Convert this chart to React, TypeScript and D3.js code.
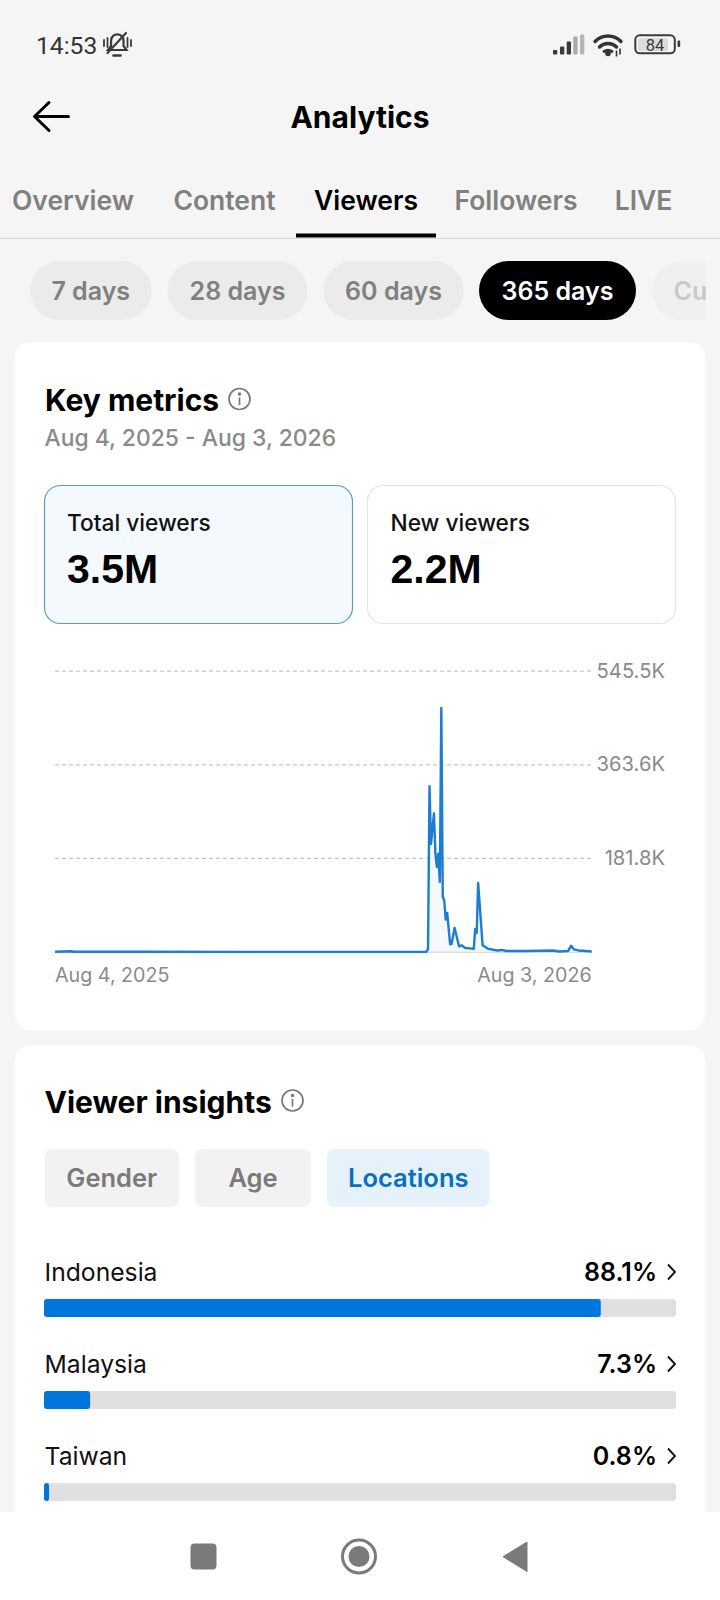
import React from "react";
import * as d3 from "d3";

// ---- data ----
const dayOffsets = [0, 11, 13, 60, 130, 200, 252, 253, 254, 255, 257, 258, 259, 260, 261, 262, 263, 264, 265, 266, 268, 269, 271, 274, 276, 278, 284, 285, 286, 287, 290, 294, 300, 303, 306, 320, 338, 342, 348, 350, 352, 355, 360, 364];
const dailyViewersK = [0.4, 1.5, 0.4, 0.4, 0.3, 0.3, 0.4, 6, 322, 210, 269, 191, 165, 191, 136, 474, 107, 100, 63, 76, 15, 16, 47, 11, 13, 8, 6, 45, 37, 134, 13, 6, 3, 4, 2, 2, 3, 1, 2, 12, 5, 3, 2, 1];
const yTickValuesK = [181.8, 363.6, 545.5];
const xTickLabels = ["Aug 4, 2025", "Aug 3, 2026"];

const statusTime = "14:53";
const batteryLevel = "84";
const screenTitle = "Analytics";
const tabNames = ["Overview", "Content", "Viewers", "Followers", "LIVE"];
const tabCentres = [73, 224.5, 366, 516, 643.5];
const activeTab = "Viewers";
const rangeNames = ["7 days", "28 days", "60 days", "365 days"];
const activeRange = "365 days";
const insightTabs = ["Gender", "Age", "Locations"];
const activeInsight = "Locations";
const countries = ["Indonesia", "Malaysia", "Taiwan"];
const countryShares = [88.1, 7.3, 0.8];

// ---- layout ----
const FONT = "Inter, 'Noto Sans', sans-serif";
const NUMFONT = "'Liberation Sans', Arial, sans-serif";
const LIGHT = "#f5f5f5";
const GREY = "#808080";
const BLUE = "#0075db";

const x = d3.scaleLinear().domain([0, 364]).range([55, 591.7]);
const y = d3.scaleLinear().domain([0, 545.5]).range([952, 671.2]);
const points = dayOffsets.map((d, i) => [d, dailyViewersK[i]] as [number, number]);
const linePath = d3.line<[number, number]>().x((d) => x(d[0])).y((d) => y(d[1]))(points) as string;
const areaPath = d3
  .area<[number, number]>()
  .x((d) => x(d[0]))
  .y0(y(0))
  .y1((d) => y(d[1]))(points) as string;
const shareX = d3.scaleLinear().domain([0, 100]).range([0, 632]);
const rangePills = [
  [30, 121.5],
  [167.5, 140],
  [323.5, 140],
  [479, 157],
];
const insightChips = [
  [44.5, 134.5],
  [195, 116],
  [327, 162.5],
];

const InfoIcon = ({ cx, cy }: { cx: number; cy: number }) => (
  <g stroke="#777" fill="none" strokeWidth={1.7}>
    <circle cx={cx} cy={cy} r={10.5} />
    <line x1={cx} x2={cx} y1={cy - 1.5} y2={cy + 6} />
    <circle cx={cx} cy={cy - 5} r={0.9} fill="#777" />
  </g>
);

export default function App() {
  return (
    <svg
      width={720}
      height={1600}
      viewBox="0 0 720 1600"
      style={{ position: "absolute", left: 0, top: 0, display: "block" }}
      fontFamily={FONT}
    >
      <rect width={720} height={1600} fill={LIGHT} />

      {/* status bar */}
      <text x={36} y={53.5} fontFamily="Roboto" fontSize={24.6} fontWeight={400} fill="#333">
        {statusTime}
      </text>
      <g fill="none" stroke="#3a3a3a" strokeWidth={2.2} strokeLinecap="round">
        <path d="M108 50 h18.5 l-3-4 v-5.5 a6.2 6.2 0 0 0-12.4 0 v5.5 z" />
        <line x1={107.5} y1={53} x2={126} y2={33} />
        <path d="M113.5 55.5 h7" strokeWidth={2.6} />
        <path d="M104 40 v6 M107.5 38 v9 M127.5 38 v9 M131 40 v6" strokeWidth={1.8} />
      </g>
      {[
        [553, 4.5, "#3a3a3a"],
        [560, 8, "#3a3a3a"],
        [566.7, 13, "#3a3a3a"],
        [573.3, 18, "#aaaaaa"],
        [580, 20, "#b5b5b5"],
      ].map(([bx, h, c]) => (
        <rect key={bx as number} x={bx as number} y={54.5 - (h as number)} width={4.3} height={h as number} rx={1} fill={c as string} />
      ))}
      <g fill="none" stroke="#333" strokeWidth={3.4} strokeLinecap="round">
        <path d="M595 41.5 a18 18 0 0 1 26 0" />
        <path d="M599.5 47 a12 12 0 0 1 17 0" />
        <path d="M604 51.5 a7 7 0 0 1 8 0" strokeWidth={2.8} />
      </g>
      <circle cx={608} cy={53.5} r={2.8} fill="#333" />
      <path d="M616.5 50.5 v6 M620 48.5 v6" stroke="#333" strokeWidth={1.6} />
      <rect x={635.3} y={35.3} width={39.5} height={18} rx={4.5} fill={LIGHT} stroke="#3a3a3a" strokeWidth={2} />
      <rect x={638} y={38} width={30} height={13} rx={2} fill="#dcdcdc" />
      <text x={655} y={50.5} fontFamily="Roboto" fontSize={16.5} textAnchor="middle" fill="#3a3a3a">
        {batteryLevel}
      </text>
      <rect x={677.5} y={40.5} width={2.7} height={6.5} rx={1} fill="#3a3a3a" />

      {/* header */}
      <path d="M68.5 116.5 H35 M49 102.5 L34.5 116.5 L49 130.5" fill="none" stroke="#000" strokeWidth={3} strokeLinecap="round" strokeLinejoin="round" />
      <text x={360} y={128} textAnchor="middle" fontSize={30} fontWeight={700} fill="#000">
        {screenTitle}
      </text>

      {/* tabs */}
      {tabNames.map((t, i) => (
        <text key={t} x={tabCentres[i]} y={210} textAnchor="middle" fontSize={26.5} fontWeight={600} fill={t === activeTab ? "#000" : GREY}>
          {t}
        </text>
      ))}
      <line x1={0} x2={720} y1={238.5} y2={238.5} stroke="#d8d8d8" strokeWidth={1.2} />
      <rect x={296} y={233.5} width={140} height={4} fill="#000" />

      {/* range pills */}
      {rangeNames.map((r, i) => {
        const [px, pw] = rangePills[i];
        const on = r === activeRange;
        return (
          <g key={r}>
            <rect x={px} y={261} width={pw} height={59} rx={29.5} fill={on ? "#000" : "#ebebeb"} />
            <text x={px + pw / 2} y={300} textAnchor="middle" fontSize={25} fontWeight={600} fill={on ? "#fff" : GREY}>
              {r}
            </text>
          </g>
        );
      })}
      <clipPath id="pillClip">
        <rect x={640} y={255} width={65.5} height={70} />
      </clipPath>
      <g clipPath="url(#pillClip)">
        <rect x={652} y={261} width={140} height={59} rx={29.5} fill="#f0f0f0" />
      </g>
      <text x={673.5} y={300} fontSize={25} fontWeight={600} fill="#c8c8c8">
        Cu
      </text>

      {/* key metrics card */}
      <rect x={14.5} y={342} width={691} height={688.5} rx={16} fill="#fff" />
      <text x={45} y={410.5} fontSize={30} fontWeight={700} fill="#000">
        Key metrics
      </text>
      <InfoIcon cx={239.5} cy={399} />
      <text x={44.5} y={446} fontSize={22.9} fontWeight={500} fill="#8a8a8a">
        {xTickLabels[0]} - {xTickLabels[1]}
      </text>

      <rect x={44.5} y={485.5} width={308} height={138} rx={16} fill="#f4f9fd" stroke="#5b9dbf" strokeWidth={1.2} />
      <text x={67} y={531} fontSize={22.7} fontWeight={500} fill="#111">
        Total viewers
      </text>
      <text x={67} y={583} fontFamily={NUMFONT} fontSize={41} fontWeight={700} fill="#000">
        3.5M
      </text>
      <rect x={367.5} y={485.5} width={308} height={138} rx={16} fill="#fff" stroke="#e4e4e4" strokeWidth={1.2} />
      <text x={390.5} y={531} fontSize={22.7} fontWeight={500} fill="#111">
        New viewers
      </text>
      <text x={390.5} y={583} fontFamily={NUMFONT} fontSize={41} fontWeight={700} fill="#000">
        2.2M
      </text>

      {/* chart */}
      {yTickValuesK.map((v) => (
        <g key={v}>
          <line x1={x(0)} x2={x(364)} y1={y(v)} y2={y(v)} stroke="#c4c4c4" strokeWidth={1.2} strokeDasharray="4 3" />
          <text x={665} y={y(v) + 6.5} textAnchor="end" fontSize={20.2} fill="#8a8a8a">
            {v}K
          </text>
        </g>
      ))}
      <line x1={x(0)} x2={x(364)} y1={y(0)} y2={y(0)} stroke="#dddddd" strokeWidth={2} />
      <path d={areaPath} fill="#f1f7fc" opacity={0.7} />
      <path d={linePath} fill="none" stroke="#1b7dd3" strokeWidth={2.4} strokeLinejoin="round" />
      <text x={55} y={981.5} fontSize={19.7} fill="#8a8a8a">
        {xTickLabels[0]}
      </text>
      <text x={591.7} y={981.5} textAnchor="end" fontSize={19.7} fill="#8a8a8a">
        {xTickLabels[1]}
      </text>

      {/* viewer insights card */}
      <rect x={14.5} y={1045} width={691} height={520} rx={16} fill="#fff" />
      <text x={44.5} y={1113} fontSize={30} fontWeight={700} fill="#000">
        Viewer insights
      </text>
      <InfoIcon cx={292.5} cy={1100.5} />
      {insightTabs.map((t, i) => {
        const [cx0, cw] = insightChips[i];
        const on = t === activeInsight;
        return (
          <g key={t}>
            <rect x={cx0} y={1149} width={cw} height={58} rx={8} fill={on ? "#e6f2fb" : "#f2f2f2"} />
            <text x={cx0 + cw / 2} y={1187} textAnchor="middle" fontSize={25.5} fontWeight={600} fill={on ? "#0a6fc2" : "#7a7a7a"}>
              {t}
            </text>
          </g>
        );
      })}
      {countries.map((c, i) => {
        const off = i * 92;
        return (
          <g key={c}>
            <text x={44.5} y={1281 + off} fontSize={24.7} fill="#111">
              {c}
            </text>
            <text x={657} y={1281 + off} textAnchor="end" fontSize={25} fontWeight={600} fill="#000">
              {countryShares[i]}%
            </text>
            <path
              d={`M668 ${1264.5 + off} L675 ${1272 + off} L668 ${1279.5 + off}`}
              fill="none"
              stroke="#111"
              strokeWidth={1.9}
            />
            <rect x={44} y={1299 + off} width={shareX(100)} height={18} rx={3} fill="#e0e0e0" />
            <rect x={44} y={1299 + off} width={shareX(countryShares[i])} height={18} rx={3} fill={BLUE} />
          </g>
        );
      })}

      {/* navigation bar */}
      <rect x={0} y={1512} width={720} height={88} fill="#fff" />
      <rect x={190.5} y={1543.5} width={26} height={26} rx={4} fill="#7a7a7a" />
      <circle cx={359} cy={1556.5} r={16.5} fill="none" stroke="#7a7a7a" strokeWidth={3} />
      <circle cx={359} cy={1556.5} r={10.5} fill="#7a7a7a" />
      <path d="M527 1542 V1571.5 L503 1556.7 Z" fill="#7a7a7a" stroke="#7a7a7a" strokeWidth={1} strokeLinejoin="round" />
    </svg>
  );
}
